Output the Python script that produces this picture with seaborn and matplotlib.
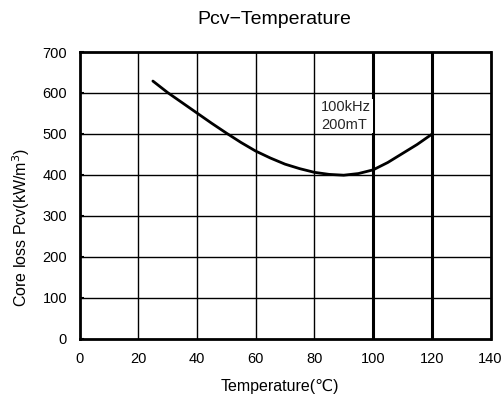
import matplotlib
matplotlib.use("Agg")
import matplotlib.pyplot as plt
import seaborn as sns
import pandas as pd

# Core loss vs temperature (100kHz, 200mT)
temperature = [25, 30, 35, 40, 45, 50, 55, 60, 65, 70, 75, 80, 85, 90,
               95, 100, 105, 110, 115, 120]
core_loss = [629, 601, 576, 551, 526, 502, 479, 458, 441, 426, 415, 406,
             401, 399, 403, 412, 430, 452, 474, 499]
x_ticks = [0, 20, 40, 60, 80, 100, 120, 140]
y_ticks = [0, 100, 200, 300, 400, 500, 600, 700]

df = pd.DataFrame({"Temperature": temperature, "Pcv": core_loss})

sns.set_theme(style="white")
plt.rcParams["font.family"] = ["Liberation Sans", "DejaVu Sans"]

W, H = 503, 399
fig = plt.figure(figsize=(W / 100, H / 100), dpi=100)
ax = fig.add_axes([79.5 / W, 1 - 338.5 / H, 411 / W, 286.5 / H])

# Grid
for xv in x_ticks[1:-1]:
    lw = 2.2 if xv >= 100 else 1.0
    ax.axvline(xv, color="black", lw=lw, zorder=1)
for yv in y_ticks[1:-1]:
    ax.axhline(yv, color="black", lw=1.0, zorder=1)

sns.lineplot(data=df, x="Temperature", y="Pcv", ax=ax, color="black",
             lw=2.0, zorder=3)

ax.set_xlim(0, 140)
ax.set_ylim(0, 700)
ax.set_xticks(x_ticks)
ax.set_yticks(y_ticks)
ax.tick_params(axis="x", labelsize=10.5, colors="black", length=0, pad=10)
ax.tick_params(axis="y", labelsize=10.5, colors="black", direction="in",
               length=3, width=1.5, pad=9, left=True)
ax.set_xlabel("")
ax.set_ylabel("")
for s in ax.spines.values():
    s.set_color("black")
    s.set_linewidth(2.0)

ax.text(82.3, 582, "100kHz\n200mT", fontsize=10.5, va="top", ha="left",
        linespacing=1.3, zorder=4,
        bbox=dict(facecolor="white", edgecolor="none", pad=1.0))

fig.text(280 / W, 1 - 386 / H, "Temperature(℃)", fontsize=11.5,
         ha="center", va="center", color="black")
fig.text(21 / W, 1 - 228 / H, "Core loss Pcv(kW/m$^3$)", fontsize=11.5,
         rotation=90, ha="center", va="center", color="black")
fig.text(274 / W, 1 - 20 / H, "Pcv−Temperature", fontsize=14,
         ha="center", va="center", color="black")

fig.savefig("out.png", dpi=100, facecolor="white")
